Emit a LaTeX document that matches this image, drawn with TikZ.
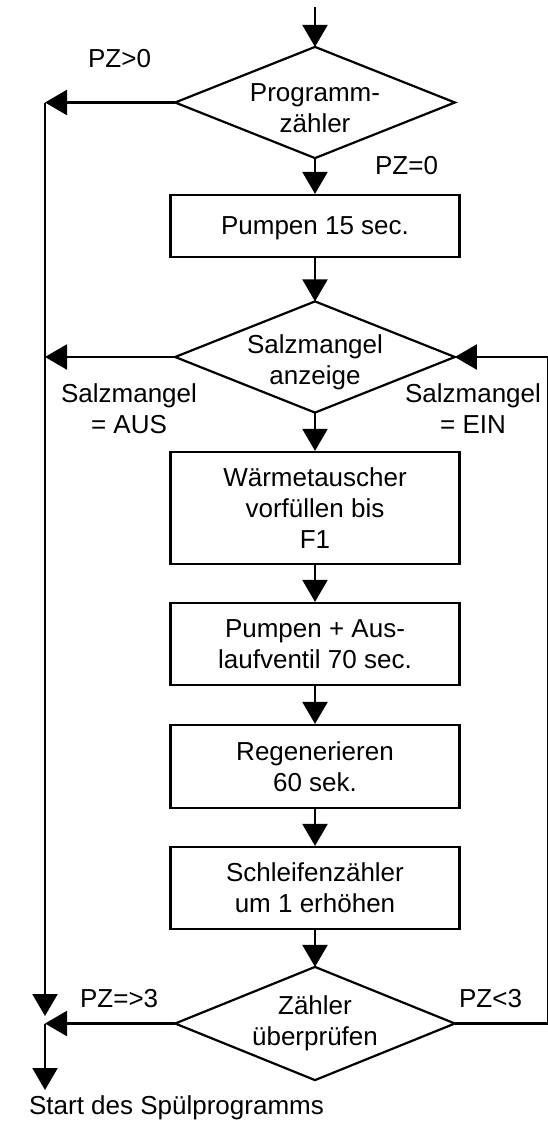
\documentclass[tikz,border=0pt]{standalone}
\usepackage{fontspec}
\setmainfont{Liberation Sans}
\usetikzlibrary{arrows.meta}
\newcommand\flowfont{\fontsize{26pt}{31pt}\selectfont}
\begin{document}
\begin{tikzpicture}[x=1pt,y=-1pt,
  line width=2.2pt,
  arr/.style={-{Triangle[length=22pt,width=25pt]}},
  box/.style={draw, minimum width=289pt, inner sep=0pt, align=center, font=\flowfont},
  dia/.style={minimum width=277.5pt, minimum height=109pt, inner sep=0pt},
  diatext/.style={inner sep=0pt, align=center, font=\flowfont},
  lbl/.style={inner sep=0pt, font=\flowfont, align=center}]
\useasboundingbox[fill=white] (0,0) rectangle (548,1124);

% decisions (outline drawn from anchors)
\node[dia] (d1) at (315,102.5) {};
\node[dia] (d2) at (315,357) {};
\node[dia, minimum height=111pt] (d3) at (315,1023.5) {};
\foreach \d in {d1,d2,d3}{
  \draw (\d.north) -- (\d.east) -- (\d.south) -- (\d.west) -- cycle;
}
\node[diatext] (t1) at ([yshift=-5.5pt]d1.center) {Programm-\\zähler};
\node[diatext] (t2) at ([yshift=-5pt]d2.center) {Salzmangel\\anzeige};
\node[diatext] (t3) at (d3.center) {Zähler\\überprüfen};

% process boxes
\node[box, minimum height=62pt, text depth=0pt] (b1) at (315,226) {Pumpen 15 sec.};
\node[box, minimum height=112pt] (b2) at (315,508) {Wärmetauscher\\vorfüllen bis\\F1};
\node[box, minimum height=82pt] (b3) at (315,644) {Pumpen + Aus-\\laufventil 70 sec.};
\node[box, minimum height=83pt] (b4) at (315,766.5) {Regenerieren\\60 sek.};
\node[box, minimum height=82pt] (b5) at (315,888) {Schleifenzähler\\um 1 erhöhen};

% helper coordinates
\coordinate (top) at (315,7);
\coordinate (L1) at (45,102.5);
\coordinate (L2) at (45,357);
\coordinate (Lj) at (45,1016);
\coordinate (Lj2) at (45,1023.5);
\coordinate (Lend) at (45,1090);
\coordinate (R) at (548.4,0);

% main flow
\draw[arr] (top) -- (d1.north);
\draw[arr] (d1.south) -- (b1.north);
\draw[arr] (b1.south) -- (d2.north);
\draw[arr] (d2.south) -- (b2.north);
\draw[arr] (b2.south) -- (b3.north);
\draw[arr] (b3.south) -- (b4.north);
\draw[arr] (b4.south) -- (b5.north);
\draw[arr] (b5.south) -- (d3.north);

% left branches
\draw[arr] (d1.west) -- (L1);
\draw[arr] (d2.west) -- (L2);
\draw[arr] (L1) -- (Lj);
\draw[arr] (d3.west) -- (Lj2);
\draw[arr] (Lj2) -- (Lend);

% right loop (vertical part runs along the right edge)
\draw[arr] (d3.east) -- (d3.east -| R) -- (d2.east -| R) -- (d2.east);

% labels
\node[lbl, anchor=base west] (pzg) at (87,67) {PZ>0};
\node[lbl, anchor=base west] (pz0) at (374,174) {PZ=0};
\node[lbl] (aus) at (129,409) {Salzmangel\\= AUS};
\node[lbl] (ein) at (473,409) {Salzmangel\\= EIN};
\node[lbl, anchor=base west] (pzge) at (79,1007) {PZ=>3};
\node[lbl, anchor=base west] (pzl) at (458,1007) {PZ<3};
\node[lbl, anchor=base west] (start) at (28,1114) {Start des Spülprogramms};
\end{tikzpicture}
\end{document}
